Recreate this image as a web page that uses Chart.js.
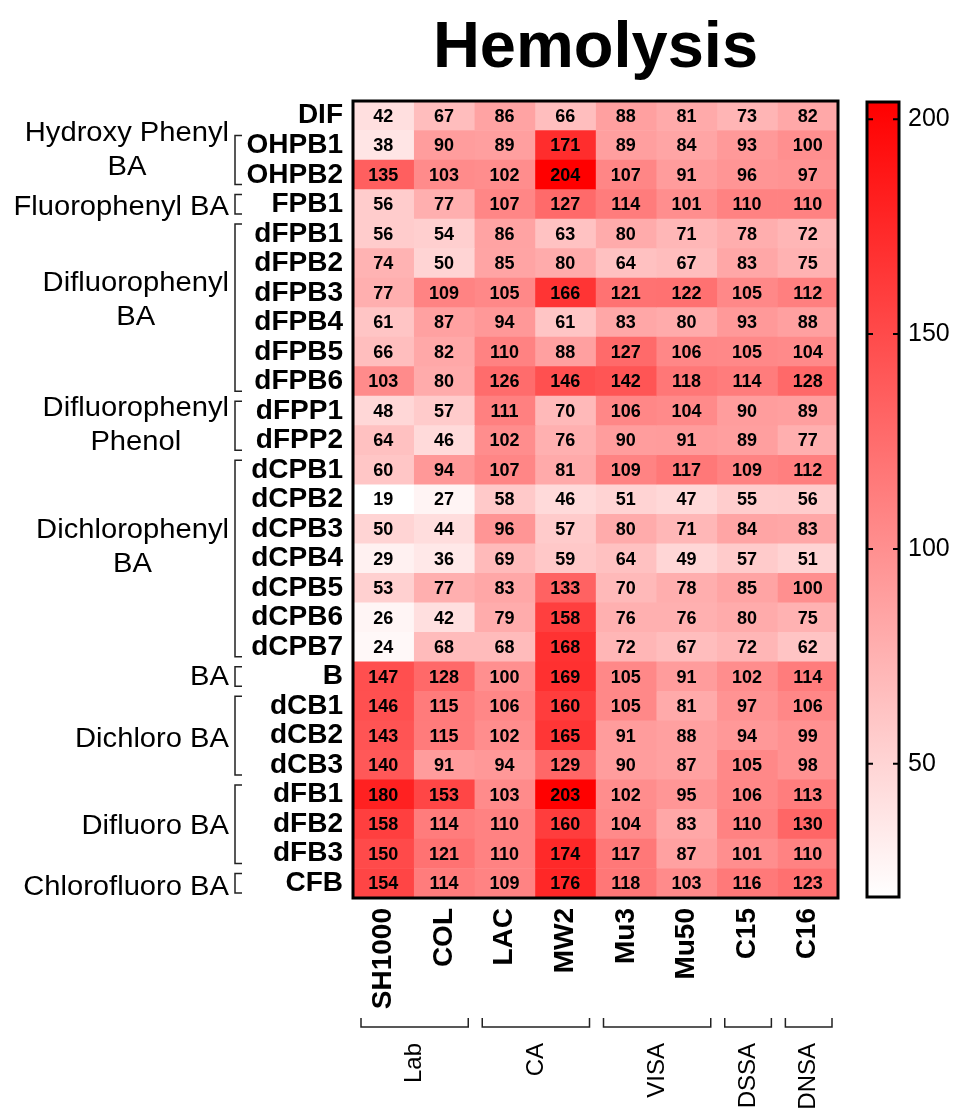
<!DOCTYPE html>
<html>
<head>
<meta charset="utf-8">
<script src="https://cdn.jsdelivr.net/npm/chart.js@4.4.0/dist/chart.umd.min.js"></script>
<style>
html,body{margin:0;padding:0;background:#fff;}
canvas{display:block;}
</style>
</head>
<body>
<canvas id="c" width="957" height="1111"></canvas>
<script>
// ---------- data ----------
const chartTitle = 'Hemolysis';
const rowLabels = ['DIF','OHPB1','OHPB2','FPB1','dFPB1','dFPB2','dFPB3','dFPB4','dFPB5','dFPB6',
  'dFPP1','dFPP2','dCPB1','dCPB2','dCPB3','dCPB4','dCPB5','dCPB6','dCPB7','B',
  'dCB1','dCB2','dCB3','dFB1','dFB2','dFB3','CFB'];
const strainLabels = ['SH1000','COL','LAC','MW2','Mu3','Mu50','C15','C16'];

const SH1000 = [42,38,135,56,56,74,77,61,66,103,48,64,60,19,50,29,53,26,24,147,146,143,140,180,158,150,154];
const COL    = [67,90,103,77,54,50,109,87,82,80,57,46,94,27,44,36,77,42,68,128,115,115,91,153,114,121,114];
const LAC    = [86,89,102,107,86,85,105,94,110,126,111,102,107,58,96,69,83,79,68,100,106,102,94,103,110,110,109];
const MW2    = [66,171,204,127,63,80,166,61,88,146,70,76,81,46,57,59,133,158,168,169,160,165,129,203,160,174,176];
const Mu3    = [88,89,107,114,80,64,121,83,127,142,106,90,109,51,80,64,70,76,72,105,105,91,90,102,104,117,118];
const Mu50   = [81,84,91,101,71,67,122,80,106,118,104,91,117,47,71,49,78,76,67,91,81,88,87,95,83,87,103];
const C15    = [73,93,96,110,78,83,105,93,105,114,90,89,109,55,84,57,85,80,72,102,97,94,105,106,110,101,116];
const C16    = [82,100,97,110,72,75,112,88,104,128,89,77,112,56,83,51,100,75,62,114,106,99,98,113,130,110,123];
const seriesValues = [SH1000, COL, LAC, MW2, Mu3, Mu50, C15, C16];

const rowGroupNames = ['Hydroxy Phenyl\nBA','Fluorophenyl BA','Difluorophenyl\nBA','Difluorophenyl\nPhenol',
  'Dichlorophenyl\nBA','BA','Dichloro BA','Difluoro BA','Chlorofluoro BA'];
const rowGroupFirst = ['OHPB1','FPB1','dFPB1','dFPP1','dCPB1','B','dCB1','dFB1','CFB'];
const rowGroupLast  = ['OHPB2','FPB1','dFPB6','dFPP2','dCPB7','B','dCB3','dFB3','CFB'];

const strainGroupNames = ['Lab','CA','VISA','DSSA','DNSA'];
const strainGroupFirst = ['SH1000','LAC','Mu3','C15','C16'];
const strainGroupLast  = ['COL','MW2','Mu50','C15','C16'];

const colorbarTicks = [50,100,150,200];

// ---------- helpers ----------
const FONT = "'Liberation Sans', Arial, Helvetica, sans-serif";
const allVals = seriesValues.flat();
const vMin = Math.min(...allVals);
const vMax = Math.max(...allVals);
function colorFor(v) {
  const t = Math.max(0, Math.min(1, (v - vMin) / (vMax - vMin)));
  const g = Math.round(255 * (1 - t));
  return `rgb(255,${g},${g})`;
}

const datasets = seriesValues.map((vals, c) => ({
  label: strainLabels[c],
  data: vals.map(() => [c, c + 1]),
  cellValues: vals,
  backgroundColor: vals.map(colorFor),
  borderWidth: 0,
  grouped: false,
  barPercentage: 1,
  categoryPercentage: 1
}));

const decor = {
  id: 'decor',
  afterDatasetsDraw(chart, args, opts) {
    const ctx = chart.ctx;
    const ca = chart.chartArea;
    ctx.save();
    ctx.fillStyle = '#000';
    ctx.font = `bold 18px ${FONT}`;
    ctx.textAlign = 'center';
    ctx.textBaseline = 'middle';
    chart.data.datasets.forEach((ds, di) => {
      const meta = chart.getDatasetMeta(di);
      meta.data.forEach((el, i) => {
        const p = el.getCenterPoint();
        ctx.fillText(String(ds.cellValues[i]), p.x, p.y + 1);
      });
    });
    ctx.strokeStyle = '#000';
    ctx.lineWidth = 3;
    ctx.strokeRect(ca.left, ca.top, ca.right - ca.left, ca.bottom - ca.top);
    ctx.restore();
  },
  afterDraw(chart, args, opts) {
    const ctx = chart.ctx;
    const ca = chart.chartArea;
    const ys = chart.scales.y;
    const xs = chart.scales.x2;
    ctx.save();
    // title
    ctx.fillStyle = '#000';
    ctx.font = `bold 65px ${FONT}`;
    ctx.textAlign = 'center';
    ctx.textBaseline = 'alphabetic';
    ctx.fillText(chartTitle, (ca.left + ca.right) / 2, 67);

    // left groups
    const rowH = ys.getPixelForValue(1) - ys.getPixelForValue(0);
    ctx.strokeStyle = '#222';
    ctx.lineWidth = 1.5;
    rowGroupNames.forEach((name, g) => {
      const r0 = rowLabels.indexOf(rowGroupFirst[g]);
      const r1 = rowLabels.indexOf(rowGroupLast[g]);
      const top = ys.getPixelForValue(r0) - rowH / 2;
      const bot = ys.getPixelForValue(r1) + rowH / 2;
      const bx = opts.bracketX;
      ctx.beginPath();
      ctx.moveTo(bx + 7, top + 5);
      ctx.lineTo(bx, top + 5);
      ctx.lineTo(bx, bot - 5);
      ctx.lineTo(bx + 7, bot - 5);
      ctx.stroke();
      const lines = name.split('\n');
      ctx.font = `27px ${FONT}`;
      const sx = opts.stretch;
      const w = Math.max(...lines.map(l => ctx.measureText(l).width)) * sx;
      const cx = opts.groupRight - w / 2;
      const cy = (top + bot) / 2 + (opts.nudges[g] || 0);
      const lh = 34;
      ctx.textAlign = 'center';
      ctx.textBaseline = 'middle';
      lines.forEach((l, i) => {
        ctx.save();
        ctx.translate(cx, cy + (i - (lines.length - 1) / 2) * lh);
        ctx.scale(sx, 1);
        ctx.fillText(l, 0, 0);
        ctx.restore();
      });
    });

    // bottom groups
    const colW = xs.getPixelForValue(1) - xs.getPixelForValue(0);
    strainGroupNames.forEach((name, g) => {
      const c0 = strainLabels.indexOf(strainGroupFirst[g]);
      const c1 = strainLabels.indexOf(strainGroupLast[g]);
      const l = xs.getPixelForValue(c0) - colW / 2 + 8;
      const r = xs.getPixelForValue(c1) + colW / 2 - 6;
      const by = opts.bracketY;
      ctx.beginPath();
      ctx.moveTo(l, by - 9);
      ctx.lineTo(l, by);
      ctx.lineTo(r, by);
      ctx.lineTo(r, by - 9);
      ctx.stroke();
      ctx.save();
      ctx.translate((l + r) / 2, by + 16);
      ctx.rotate(-Math.PI / 2);
      ctx.font = `24px ${FONT}`;
      ctx.textAlign = 'right';
      ctx.textBaseline = 'middle';
      ctx.fillText(name, 0, 0);
      ctx.restore();
    });

    // colorbar
    const cbL = ca.right + 29, cbR = ca.right + 61;
    const cbT = ca.top + 1, cbB = ca.bottom - 1;
    const grad = ctx.createLinearGradient(0, cbB, 0, cbT);
    grad.addColorStop(0, colorFor(vMin));
    grad.addColorStop(1, colorFor(vMax));
    ctx.fillStyle = grad;
    ctx.fillRect(cbL, cbT, cbR - cbL, cbB - cbT);
    ctx.strokeStyle = '#000';
    ctx.lineWidth = 3;
    ctx.strokeRect(cbL, cbT, cbR - cbL, cbB - cbT);
    ctx.lineWidth = 2;
    ctx.fillStyle = '#000';
    ctx.font = `25px ${FONT}`;
    ctx.textAlign = 'left';
    ctx.textBaseline = 'middle';
    colorbarTicks.forEach(v => {
      const y = cbB - (v - vMin) / (vMax - vMin) * (cbB - cbT);
      ctx.beginPath();
      ctx.moveTo(cbL, y); ctx.lineTo(cbL + 6, y);
      ctx.moveTo(cbR, y); ctx.lineTo(cbR - 6, y);
      ctx.stroke();
      ctx.fillText(String(v), cbR + 9, y);
    });
    ctx.restore();
  }
};

Chart.defaults.font.family = FONT;
Chart.defaults.color = '#000';

new Chart(document.getElementById('c'), {
  type: 'bar',
  data: { labels: rowLabels, datasets },
  options: {
    indexAxis: 'y',
    responsive: false,
    animation: false,
    devicePixelRatio: 1,
    layout: { padding: { top: 101, right: 119, left: 0, bottom: 0 } },
    plugins: {
      legend: { display: false },
      tooltip: { enabled: false },
      title: { display: false },
      decor: { bracketX: 235, groupRight: 229, bracketY: 1027, stretch: 1.08, nudges: [-9, 3, -7, 0, -11, 1, 4, 2, 4] }
    },
    scales: {
      y: {
        type: 'category',
        offset: true,
        grid: { display: false, drawTicks: false },
        border: { display: false },
        ticks: { autoSkip: false, padding: 10, color: '#000', font: { size: 28, weight: 'bold' } },
        afterFit: s => { s.width = 353; }
      },
      x: {
        type: 'linear',
        min: 0,
        max: strainLabels.length,
        display: false
      },
      x2: {
        type: 'category',
        labels: strainLabels,
        position: 'bottom',
        offset: true,
        grid: { display: false, drawTicks: false },
        border: { display: false },
        ticks: { autoSkip: false, minRotation: 90, maxRotation: 90, padding: 10, color: '#000', font: { size: 28, weight: 'bold' } },
        afterFit: s => { s.height = 213; }
      }
    }
  },
  plugins: [decor]
});
</script>
</body>
</html>
